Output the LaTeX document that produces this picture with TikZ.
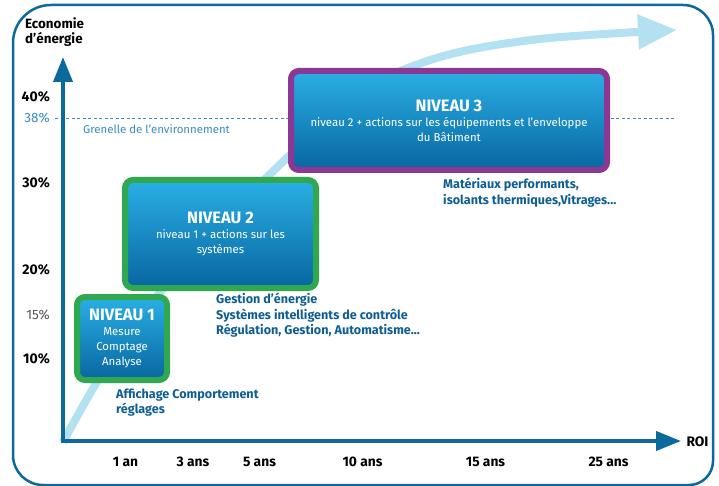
\documentclass[tikz,border=0pt]{standalone}
\usepackage{fontspec}
\setmainfont{Fira Sans}
\usetikzlibrary{arrows.meta}
\definecolor{frameblue}{HTML}{0B6A9B}
\definecolor{curveblue}{HTML}{B3E1F2}
\definecolor{purpleb}{HTML}{8B3794}
\definecolor{greenb}{HTML}{2FA84F}
\definecolor{cyantop}{HTML}{2AAFE5}
\definecolor{darkbot}{HTML}{0866A0}
\definecolor{labelblue}{HTML}{0E5E94}
\definecolor{grenblue}{HTML}{3A8DC0}
\definecolor{grayt}{HTML}{555555}
\begin{document}
\begin{tikzpicture}[x=1pt,y=-1pt,
  frame/.style={draw=frameblue,line width=2.5pt},
  axis/.style={draw=frameblue,line width=4pt,-{Triangle[length=25pt,width=19pt]}},
  curve/.style={draw=curveblue,line width=8pt,-{Triangle[length=39pt,width=33pt]}},
  gren/.style={draw=grenblue,line width=0.8pt,dash pattern=on 3pt off 2.5pt},
  box/.style={rounded corners=8pt,line width=6pt,top color=cyantop,middle color=cyantop,bottom color=darkbot,
    text=white,align=center,inner sep=0pt,font=\fontsize{11.4}{15}\selectfont},
  blabel/.style={text=labelblue,anchor=west,align=left,inner sep=0pt,font=\fontsize{12.6}{15.5}\selectfont\bfseries},
  ylab/.style={anchor=east,inner sep=0pt,font=\fontsize{14}{14}\selectfont\bfseries},
  xlab/.style={inner sep=0pt,font=\fontsize{13.8}{14}\selectfont\bfseries}]
\useasboundingbox (0,0) rectangle (719,486);
% frame
\draw[frame] (13,250) [rounded corners=38pt] |- (360,5) [rounded corners=30pt] -| (713,250)
  [rounded corners=24pt] |- (360,485) [rounded corners=30pt] -| (13,250) -- cycle;
% growth curve
\draw[curve] plot[smooth,tension=0.55] coordinates {(63,442) (120,345) (200,245) (290,155) (360,92) (440,57) (540,39) (677,30)};
% Grenelle dashed line
\coordinate (g0) at (55,118);
\coordinate (g1) at (675,118);
\draw[gren] (g0) -- (g1);
\node[text=grenblue,anchor=west,inner sep=0pt,font=\fontsize{11.4}{13}\selectfont] (gren) at (83,129) {Grenelle de l’environnement};
% axes
\coordinate (O) at (63,443);
\coordinate (Ox) at (61,441);
\coordinate (Ytip) at (63,57);
\coordinate (Xtip) at (681,441);
\draw[axis] (O) -- (Ytip);
\draw[axis] (Ox) -- (Xtip);
% axis titles
\node[anchor=west,align=left,inner sep=0pt,font=\fontsize{13.4}{15}\selectfont\bfseries] (ytitle) at (25,32.5) {Economie\\d’énergie};
\node[xlab] (roi) at (697.5,442) {ROI};
% y labels
\node[ylab] (p40) at (50,97) {40\%};
\node[anchor=east,inner sep=0pt,text=grenblue,font=\fontsize{13.5}{14}\selectfont] (p38) at (50,118) {38\%};
\node[ylab] (p30) at (50,183) {30\%};
\node[ylab] (p20) at (50,270) {20\%};
\node[anchor=east,inner sep=0pt,text=grayt,font=\fontsize{13.5}{14}\selectfont] (p15) at (50,315) {15\%};
\node[ylab] (p10) at (50,359) {10\%};
% x labels
\node[xlab] (t1) at (125.5,462) {1 an};
\node[xlab] (t3) at (193,462) {3 ans};
\node[xlab] (t5) at (259.5,462) {5 ans};
\node[xlab] (t10) at (362.5,462) {10 ans};
\node[xlab] (t15) at (485.5,462) {15 ans};
\node[xlab] (t25) at (608.5,462) {25 ans};
% level boxes
\node[box,draw=purpleb,minimum width=316pt,minimum height=99pt] (n3) at (449,120.5)
  {{\fontsize{16.5}{16}\selectfont\bfseries NIVEAU 3}\\niveau 2 + actions sur les équipements et l’enveloppe\\du Bâtiment};
\node[box,draw=greenb,minimum width=191pt,minimum height=108pt] (n2) at (220.5,234)
  {{\fontsize{16.5}{16}\selectfont\bfseries NIVEAU 2}\\niveau 1 + actions sur les\\systèmes};
\node[box,draw=greenb,minimum width=90pt,minimum height=83pt] (n1) at (122,338.5)
  {{\fontsize{16.5}{16}\selectfont\bfseries NIVEAU 1}\\Mesure\\Comptage\\Analyse};
% descriptions
\node[blabel] (d3) at (443,192.5) {Matériaux performants,\\isolants thermiques,Vitrages...};
\node[blabel] (d2) at (216,315.5) {Gestion d’énergie\\Systèmes intelligents de contrôle\\Régulation, Gestion, Automatisme...};
\node[blabel] (d1) at (116,402.5) {Affichage Comportement\\réglages};
\end{tikzpicture}
\end{document}
